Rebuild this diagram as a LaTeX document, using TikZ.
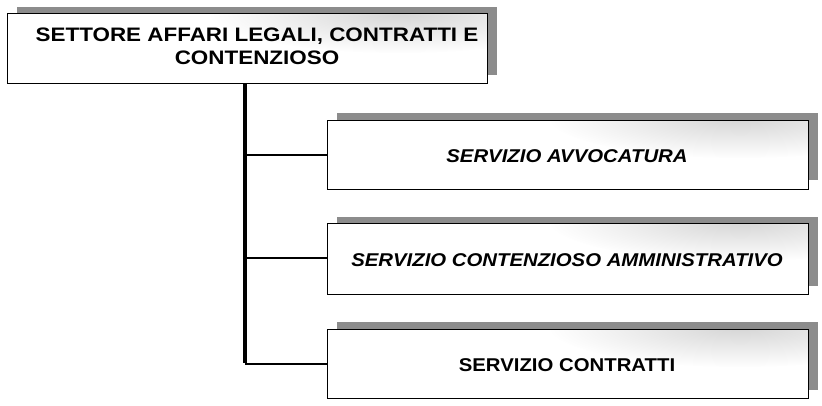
\documentclass[tikz,border=0pt]{standalone}
\usepackage{fontspec}
\setmainfont{Liberation Sans}[BoldFont={Liberation Sans Bold},ItalicFont={Liberation Sans Italic},BoldItalicFont={Liberation Sans Bold Italic}]
\usetikzlibrary{fadings}
\tikzfading[name=cornerfade, inner color=transparent!35, outer color=transparent!100]
\newcommand{\wideT}[1]{\scalebox{1.15}[1]{#1}}
\newcommand{\wideS}[1]{\scalebox{1.1}[1]{#1}}
\begin{document}
\begin{tikzpicture}[x=1pt,y=-1pt,
  shadowbox/.style={fill=black!45},
  stipple/.style={fill=black!25, path fading=cornerfade},
  mainbox/.style={draw=black, line width=0.9pt, inner sep=0pt},
  conn/.style={line width=3.5pt, black},
  branch/.style={line width=2pt, black},
  toplbl/.style={font=\bfseries\fontsize{19.5}{22}\selectfont, inner sep=0pt, anchor=base},
  lbl/.style={font=\bfseries\fontsize{18.5}{20}\selectfont, inner sep=0pt, anchor=base}]
\useasboundingbox (0,0) rectangle (822,405);
% top box
\fill[shadowbox] (17,7) rectangle (497,75);
\fill[white] (7,13) rectangle (487,83);
\begin{scope}
  \clip (7,13) rectangle (487,83);
  \fill[stipple] (400,13) ellipse [x radius=190pt, y radius=40pt];
\end{scope}
\node[mainbox, minimum width=480pt, minimum height=70pt, anchor=north west] (top) at (7,13) {};
\node[toplbl] (top1) at (257,41) {\wideT{SETTORE AFFARI LEGALI, CONTRATTI E}};
\node[toplbl] (top2) at (257,64) {\wideT{CONTENZIOSO}};
% service 1
\fill[shadowbox] (337,113) rectangle (818,180);
\fill[white] (327,120) rectangle (808,189);
\begin{scope}
  \clip (327,120) rectangle (808,189);
  \fill[stipple] (740,118) ellipse [x radius=190pt, y radius=40pt];
\end{scope}
\node[mainbox, minimum width=481pt, minimum height=69pt, anchor=north west] (s1) at (327,120) {};
\node[lbl] (t1) at (567,162) {\wideS{\itshape SERVIZIO AVVOCATURA}};
% service 2
\fill[shadowbox] (337,217) rectangle (818,286);
\fill[white] (327,223) rectangle (808,294);
\begin{scope}
  \clip (327,223) rectangle (808,294);
  \fill[stipple] (740,221) ellipse [x radius=190pt, y radius=40pt];
\end{scope}
\node[mainbox, minimum width=481pt, minimum height=71pt, anchor=north west] (s2) at (327,223) {};
\node[lbl] (t2) at (567,266) {\wideS{\itshape SERVIZIO CONTENZIOSO AMMINISTRATIVO}};
% service 3
\fill[shadowbox] (337,322) rectangle (818,390);
\fill[white] (327,329) rectangle (808,398);
\begin{scope}
  \clip (327,329) rectangle (808,398);
  \fill[stipple] (740,327) ellipse [x radius=190pt, y radius=40pt];
\end{scope}
\node[mainbox, minimum width=481pt, minimum height=69pt, anchor=north west] (s3) at (327,329) {};
\node[lbl] (t3) at (567,371) {\wideS{SERVIZIO CONTRATTI}};
% connectors
\coordinate (b) at (245,364);
\draw[conn] (top.south -| b) -- ([yshift=1.5pt]b);
\draw[branch] (245,155) -- (s1.west |- 0,155);
\draw[branch] (245,258) -- (s2.west |- 0,258);
\draw[branch] (b) -- (s3.west |- b);
\end{tikzpicture}
\end{document}
